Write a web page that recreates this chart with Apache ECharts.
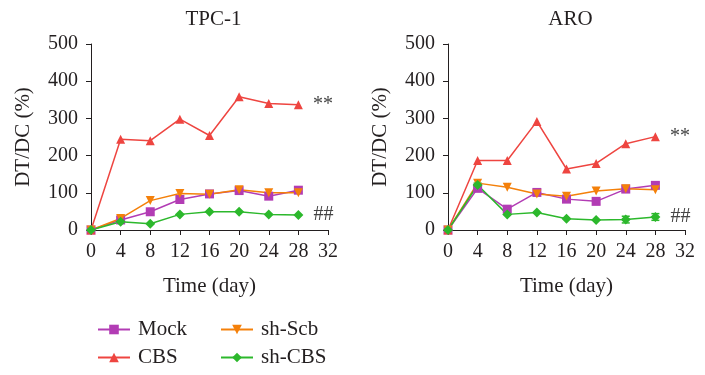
<!DOCTYPE html>
<html><head><meta charset="utf-8">
<script src="https://cdn.jsdelivr.net/npm/echarts@6/dist/echarts.min.js"></script>
<style>html,body{margin:0;padding:0;background:#fff}#c{width:705px;height:375px}</style>
</head><body><div id="c"></div>
<script>
var days = [0, 4, 8, 12, 16, 20, 24, 28];
var panels = ["TPC-1", "ARO"];
var seriesNames = ["Mock", "CBS", "sh-Scb", "sh-CBS"];
// TPC-1
var tpcMock  = [0, 27, 49, 82, 97, 106, 91, 107];
var tpcCBS   = [0, 244, 240, 298, 254, 358, 340, 337];
var tpcScb   = [0, 31, 79, 98, 96, 108, 100, 100];
var tpcShCBS = [0, 22, 17, 42, 49, 49, 42, 40];
// ARO
var aroMock  = [0, 112, 56, 101, 83, 77, 110, 120];
var aroCBS   = [0, 187, 187, 292, 164, 179, 232, 251];
var aroScb   = [0, 126, 115, 97, 91, 105, 111, 108];
var aroShCBS = [0, 121, 42, 47, 30, 27, 28, 35];
// error bars (ARO)
var aroMockErr  = [0, 0, 0, 0, 0, 8, 0, 7];
var aroScbErr   = [0, 0, 0, 0, 0, 0, 7, 0];
var aroShCBSErr = [0, 5, 0, 0, 0, 0, 9, 9];
// significance marks at last point
var tpcMarks = ["", "**", "", "##"];
var aroMarks = ["", "**", "", "##"];

var colors = ["#b23cb4", "#ee4540", "#f4800a", "#2cb82c"];
var symbols = ["rect", "triangle", "path://M0,0 L10,0 L5,10 Z", "diamond"];
var symSizes = [9, 9, 9, 10];
var FONT = "Liberation Serif";
var TXT = "#231f20";

var panelData = [[tpcMock, tpcCBS, tpcScb, tpcShCBS], [aroMock, aroCBS, aroScb, aroShCBS]];
var panelErr = [[null, null, null, null], [aroMockErr, null, aroScbErr, aroShCBSErr]];
var panelMarks = [tpcMarks, aroMarks];
var grids = [{left: 91, top: 44, width: 237, height: 186}, {left: 448, top: 44, width: 237, height: 186}];
var legendPos = [[92, 314], [92, 342], [215, 314], [215, 342]];

var option = {
  animation: false,
  textStyle: {fontFamily: FONT, color: TXT},
  title: panels.map(function (p, i) {
    return {text: p, left: grids[i].left + grids[i].width / 2 - 1, top: 4, textAlign: 'center',
      textStyle: {fontFamily: FONT, fontSize: 21, fontWeight: 'normal', color: TXT}};
  }),
  grid: grids,
  legend: seriesNames.map(function (n, i) {
    return {data: [n], left: legendPos[i][0], top: legendPos[i][1], itemWidth: 32, itemHeight: 12,
      textStyle: {fontFamily: FONT, fontSize: 21, color: TXT, padding: [0, 0, 0, 3]}};
  }),
  xAxis: grids.map(function (g, i) {
    return {type: 'value', gridIndex: i, min: 0, max: 32, interval: 4,
      name: 'Time (day)', nameLocation: 'middle', nameGap: 46,
      nameTextStyle: {fontFamily: FONT, fontSize: 21, color: TXT},
      axisLine: {lineStyle: {color: TXT, width: 1}},
      axisTick: {length: 5, lineStyle: {color: TXT}},
      axisLabel: {fontFamily: FONT, fontSize: 20, color: TXT, margin: 12},
      splitLine: {show: false}};
  }),
  yAxis: grids.map(function (g, i) {
    return {type: 'value', gridIndex: i, min: 0, max: 500, interval: 100,
      name: 'DT/DC (%)', nameLocation: 'middle', nameGap: 57,
      nameTextStyle: {fontFamily: FONT, fontSize: 21, color: TXT},
      axisLine: {show: true, lineStyle: {color: TXT, width: 1}},
      axisTick: {show: true, length: 5, lineStyle: {color: TXT}},
      axisLabel: {fontFamily: FONT, fontSize: 20, color: TXT, margin: 13},
      splitLine: {show: false}};
  }),
  series: []
};

panelData.forEach(function (sets, pi) {
  sets.forEach(function (vals, si) {
    var errs = panelErr[pi][si];
    if (errs) {
      option.series.push({
        type: 'custom', xAxisIndex: pi, yAxisIndex: pi, z: 1, silent: true,
        data: days.map(function (d, k) { return [d, vals[k] - errs[k], vals[k] + errs[k]]; }).filter(function (r) { return r[2] > r[1]; }),
        renderItem: function (params, api) {
          var lo = api.coord([api.value(0), api.value(1)]);
          var hi = api.coord([api.value(0), api.value(2)]);
          var w = 4;
          var st = {stroke: colors[si], lineWidth: 1.5};
          return {type: 'group', children: [
            {type: 'line', shape: {x1: lo[0], y1: lo[1], x2: hi[0], y2: hi[1]}, style: st},
            {type: 'line', shape: {x1: lo[0] - w, y1: lo[1], x2: lo[0] + w, y2: lo[1]}, style: st},
            {type: 'line', shape: {x1: hi[0] - w, y1: hi[1], x2: hi[0] + w, y2: hi[1]}, style: st}
          ]};
        }
      });
    }
    var mark = panelMarks[pi][si];
    option.series.push({
      name: seriesNames[si], type: 'line', xAxisIndex: pi, yAxisIndex: pi, z: 3,
      symbol: symbols[si], symbolSize: symSizes[si], showAllSymbol: true,
      itemStyle: {color: colors[si]},
      lineStyle: {color: colors[si], width: 1.5},
      data: days.map(function (d, k) {
        var item = {value: [d, vals[k]]};
        if (k === days.length - 1 && mark) {
          item.label = {show: true, formatter: mark, position: 'right', distance: 10,
            fontFamily: FONT, fontSize: 20, color: '#444'};
        }
        return item;
      })
    });
  });
});

var chart = echarts.init(document.getElementById('c'), null, {renderer: 'canvas'});
chart.setOption(option);
</script>
</body></html>
